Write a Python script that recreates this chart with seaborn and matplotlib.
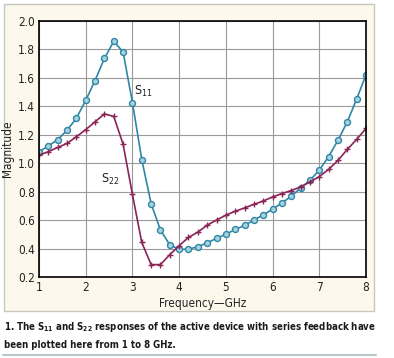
import numpy as np
import pandas as pd
import matplotlib
matplotlib.use("Agg")
import matplotlib.pyplot as plt
import seaborn as sns
from matplotlib import font_manager
from matplotlib.patches import Rectangle
from matplotlib.lines import Line2D

freq = [1.0, 1.2, 1.4, 1.6, 1.8, 2.0, 2.2, 2.4, 2.6, 2.8, 3.0, 3.2, 3.4, 3.6, 3.8,
        4.0, 4.2, 4.4, 4.6, 4.8, 5.0, 5.2, 5.4, 5.6, 5.8, 6.0, 6.2, 6.4, 6.6, 6.8,
        7.0, 7.2, 7.4, 7.6, 7.8, 8.0]
s11 = [1.08, 1.12, 1.165, 1.23, 1.315, 1.44, 1.58, 1.735, 1.855, 1.78, 1.425, 1.025,
       0.715, 0.53, 0.425, 0.395, 0.395, 0.413, 0.44, 0.471, 0.50, 0.534, 0.562, 0.60,
       0.636, 0.676, 0.72, 0.767, 0.825, 0.879, 0.95, 1.046, 1.16, 1.29, 1.45, 1.62]
s22 = [1.055, 1.08, 1.11, 1.138, 1.185, 1.235, 1.29, 1.345, 1.328, 1.133, 0.78, 0.443,
       0.287, 0.287, 0.357, 0.42, 0.478, 0.515, 0.564, 0.60, 0.634, 0.662, 0.685, 0.71,
       0.734, 0.762, 0.786, 0.807, 0.833, 0.867, 0.905, 0.956, 1.019, 1.096, 1.166, 1.243]
yticks = [0.2, 0.4, 0.6, 0.8, 1.0, 1.2, 1.4, 1.6, 1.8, 2.0]
xticks = [1, 2, 3, 4, 5, 6, 7, 8]
caption1 = "1. The S$_{11}$ and S$_{22}$ responses of the active device with series feedback have"
caption2 = "been plotted here from 1 to 8 GHz."

sns.set_style("white")
avail = {f.name for f in font_manager.fontManager.ttflist}
narrow = "Liberation Sans Narrow" if "Liberation Sans Narrow" in avail else "DejaVu Sans"
plt.rcParams['font.family'] = [narrow, 'DejaVu Sans']
plt.rcParams['font.stretch'] = 'condensed'
plt.rcParams['mathtext.default'] = 'regular'

W, H = 394, 358
fig = plt.figure(figsize=(W / 100, H / 100), dpi=100)
fig.patch.set_facecolor("white")

fig.add_artist(Rectangle((3.5 / W, 1 - 311 / H), (374 - 3.5) / W, (311 - 3.5) / H,
                         transform=fig.transFigure, facecolor="#fcf8ec",
                         edgecolor="#c8c8c0", linewidth=1.0, zorder=0))

ax = fig.add_axes([39 / W, 1 - 277 / H, (366 - 39) / W, (277 - 20.7) / H])
ax.set_facecolor("white")

df = pd.DataFrame({"freq": freq * 2, "mag": s11 + s22,
                   "param": ["S11"] * len(freq) + ["S22"] * len(freq)})
c11 = "#2f86a6"
c22 = "#8a2456"
sns.lineplot(data=df[df.param == "S11"], x="freq", y="mag", ax=ax, color=c11,
             linewidth=1.2, marker="o", markersize=4.3, markerfacecolor="#a6d3de",
             markeredgecolor=c11, markeredgewidth=1.0, legend=False)
sns.lineplot(data=df[df.param == "S22"], x="freq", y="mag", ax=ax, color=c22,
             linewidth=1.2, marker="+", markersize=5, markeredgecolor=c22,
             markeredgewidth=1.0, legend=False)

ax.set_xlim(1, 8)
ax.set_ylim(0.2, 2.0)
ax.set_xticks(xticks)
ax.set_xticklabels([str(v) for v in xticks])
ax.set_yticks(yticks)
ax.set_yticklabels([f"{v:.1f}" for v in yticks])
ax.grid(True, color="#9a9a9a", linewidth=0.8)
ax.set_axisbelow(True)
for s in ax.spines.values():
    s.set_color("black")
    s.set_linewidth(1.2)
ax.tick_params(axis="both", length=0, labelsize=8.5, pad=3, colors="#222222")
ax.set_xlabel("Frequency\u2014GHz", fontsize=8.5, color="#222222", labelpad=2)
ax.set_ylabel("Magnitude", fontsize=8.5, color="#222222", labelpad=3)

ax.text(3.03, 1.45, "S$_{11}$", fontsize=9, color="#222222", va="bottom", ha="left")
ax.text(2.72, 0.83, "S$_{22}$", fontsize=9, color="#222222", va="bottom", ha="right")

cap_font = dict(fontsize=8.6, fontweight="bold", color="#1a1a1a", ha="left", va="center")
t1 = fig.text(4 / W, 1 - 327 / H, caption1, **cap_font)
t2 = fig.text(4 / W, 1 - 345.5 / H, caption2, **cap_font)
fig.add_artist(Line2D([3 / W, 376 / W], [1 - 354.5 / H, 1 - 354.5 / H],
                      transform=fig.transFigure, color="#b9c6cc", linewidth=1.5))

r = fig.canvas.get_renderer()
wpx = t1.get_window_extent(r).width
fs = 8.6 * min(1.0, 368.0 / wpx)
t1.set_fontsize(fs)
t2.set_fontsize(fs)

fig.savefig("out.png", dpi=100, facecolor=fig.get_facecolor())
